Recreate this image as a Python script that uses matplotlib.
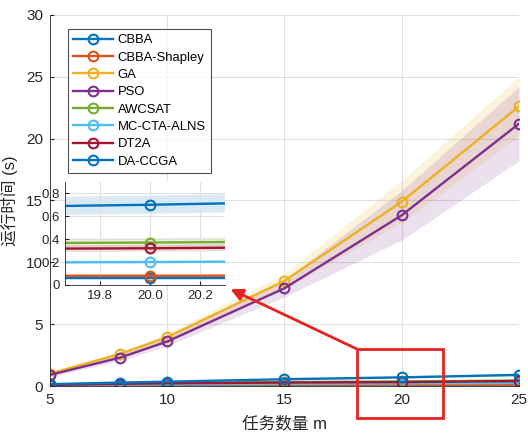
import numpy as np
import matplotlib.pyplot as plt
from matplotlib.patches import Rectangle, FancyArrowPatch

plt.rcParams['font.family'] = ['Liberation Sans', 'Noto Sans CJK SC', 'DejaVu Sans']

# data
tasks = [5, 8, 10, 15, 20, 25]
names = ['CBBA', 'CBBA-Shapley', 'GA', 'PSO', 'AWCSAT', 'MC-CTA-ALNS', 'DT2A', 'DA-CCGA']
colors = ['#0072BD', '#D95319', '#EDB120', '#7E2F8E', '#77AC30', '#4DBEEE', '#A2142F', '#0072BD']

cbba = [0.05, 0.055, 0.058, 0.06, 0.06, 0.065]
cbba_shapley = [0.06, 0.07, 0.07, 0.08, 0.08, 0.09]
ga = [1.0, 2.6, 3.95, 8.5, 14.9, 22.6]
pso = [0.9, 2.3, 3.6, 7.9, 13.8, 21.2]
awcsat = [0.10, 0.20, 0.25, 0.32, 0.37, 0.45]
mccta = [0.08, 0.12, 0.14, 0.17, 0.20, 0.24]
dt2a = [0.08, 0.18, 0.22, 0.28, 0.32, 0.40]
daccga = [0.15, 0.28, 0.35, 0.55, 0.70, 0.90]

cbba_sd = [0.01, 0.01, 0.01, 0.01, 0.01, 0.01]
cbba_shapley_sd = [0.01, 0.01, 0.01, 0.01, 0.01, 0.01]
ga_sd = [0.15, 0.2, 0.3, 0.6, 1.7, 2.4]
pso_sd = [0.15, 0.25, 0.35, 0.7, 2.0, 3.0]
awcsat_sd = [0.02, 0.02, 0.03, 0.03, 0.04, 0.04]
mccta_sd = [0.01, 0.01, 0.015, 0.015, 0.015, 0.02]
dt2a_sd = [0.02, 0.02, 0.03, 0.03, 0.03, 0.04]
daccga_sd = [0.03, 0.04, 0.05, 0.07, 0.08, 0.09]

means = [cbba, cbba_shapley, ga, pso, awcsat, mccta, dt2a, daccga]
sds = [cbba_sd, cbba_shapley_sd, ga_sd, pso_sd, awcsat_sd, mccta_sd, dt2a_sd, daccga_sd]

tick_col = '#262626'

fig = plt.figure(figsize=(5.28, 4.33), dpi=100)
ax = fig.add_axes([0.0947, 0.1085, 0.888, 0.857])

def draw(a, lw=1.5, ms=7):
    for n, c, m, s in zip(names, colors, means, sds):
        m = np.array(m); s = np.array(s)
        a.fill_between(tasks, m - s, m + s, color=c, alpha=0.15, lw=0)
        a.plot(tasks, m, '-o', color=c, lw=lw, ms=ms, mfc='none', mew=1.5, label=n)

draw(ax, lw=1.7)
ax.set_xlim(5, 25)
ax.set_ylim(0, 30)
ax.set_xticks([5, 10, 15, 20, 25])
ax.set_yticks([0, 5, 10, 15, 20, 25, 30])
ax.grid(True, color='#e0e0e0', lw=0.8)
ax.set_axisbelow(True)
ax.tick_params(direction='in', labelsize=11, colors=tick_col, length=3, pad=5)
for sp in ['top', 'right']:
    ax.spines[sp].set_visible(False)
for sp in ['left', 'bottom']:
    ax.spines[sp].set_color(tick_col)
    ax.spines[sp].set_linewidth(0.6)
ax.set_xlabel('任务数量 m', fontsize=12, color=tick_col, labelpad=6)
ax.set_ylabel('运行时间 (s)', fontsize=12, color=tick_col, labelpad=6)

leg = ax.legend(loc='upper left', bbox_to_anchor=(0.025, 0.98), fontsize=9.4,
                frameon=True, fancybox=False, edgecolor=tick_col,
                handlelength=3, borderpad=0.4, labelspacing=0.4, handletextpad=0.4)
leg.get_frame().set_linewidth(0.8)

# zoom box + arrow
rect = Rectangle((18.1, -2.6), 3.65, 5.6, fill=False, ec='#e8231f', lw=2, clip_on=False, zorder=10)
ax.add_patch(rect)

ins = fig.add_axes([0.123, 0.342, 0.303, 0.238])
draw(ins, lw=1.7, ms=7)
ins.set_xlim(19.66, 20.3)
ins.set_ylim(0, 0.9)
ins.set_xticks([19.8, 20, 20.2])
ins.set_yticks([0, 0.2, 0.4, 0.6, 0.8])
ins.set_yticklabels(['0', '0.2', '0.4', '0.6', '0.8'])
ins.grid(True, color='#e0e0e0', lw=0.8)
ins.tick_params(direction='in', labelsize=9.5, colors=tick_col, length=3)
for sp in ['top', 'right']:
    ins.spines[sp].set_visible(False)
for sp in ['left', 'bottom']:
    ins.spines[sp].set_color(tick_col)
    ins.spines[sp].set_linewidth(0.6)

arrow = FancyArrowPatch((359 / 528, 1 - 350 / 433), (228 / 528, 1 - 288 / 433),
                        transform=fig.transFigure, arrowstyle='-|>', mutation_scale=18,
                        color='#e8231f', lw=2, zorder=20)
fig.patches.append(arrow)

fig.savefig('out.png', dpi=100)
